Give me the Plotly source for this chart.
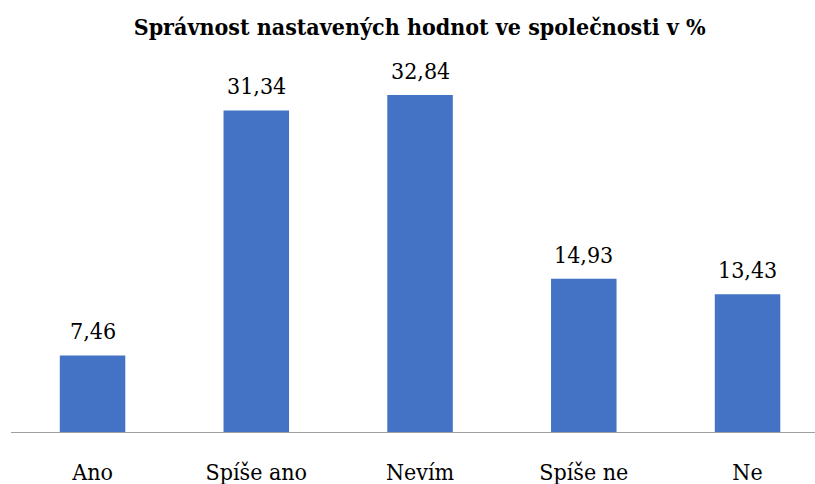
import plotly.graph_objects as go

categories = ["Ano", "Spíše ano", "Nevím", "Spíše ne", "Ne"]
values = [7.46, 31.34, 32.84, 14.93, 13.43]
value_labels = ["7,46", "31,34", "32,84", "14,93", "13,43"]

serif = "DejaVu Serif Condensed, DejaVu Serif, serif"

fig = go.Figure()
fig.add_trace(go.Bar(
    x=categories, y=values,
    marker=dict(color="#4472C4", line=dict(width=0)),
    width=0.4,
    hoverinfo="skip",
))

for c, v, t in zip(categories, values, value_labels):
    fig.add_annotation(x=c, y=v, text=t, showarrow=False, yanchor="bottom",
                       yshift=9, font=dict(family=serif, size=23, color="#000000"))

fig.update_layout(
    width=815, height=484,
    margin=dict(l=11, r=0, t=50, b=52, autoexpand=False),
    paper_bgcolor="white", plot_bgcolor="white",
    font=dict(family=serif),
    title=dict(text="<b>Správnost nastavených hodnot ve společnosti v %</b>",
               x=0.515, xanchor="center", y=0.945, yanchor="middle",
               font=dict(family=serif, size=23, color="#000000")),
    showlegend=False,
    xaxis=dict(range=[-0.498, 4.412], showline=True, linecolor="#a0a0a0", linewidth=1,
               showgrid=False, ticks="", ticklabelstandoff=19, automargin=False,
               tickfont=dict(family=serif, size=23, color="#000000")),
    yaxis=dict(range=[0, 37.23], visible=False, showgrid=False, zeroline=False,
               automargin=False),
)

fig.write_html("out.html", config={"displayModeBar": False},
               post_script="document.body.style.margin='0';")
